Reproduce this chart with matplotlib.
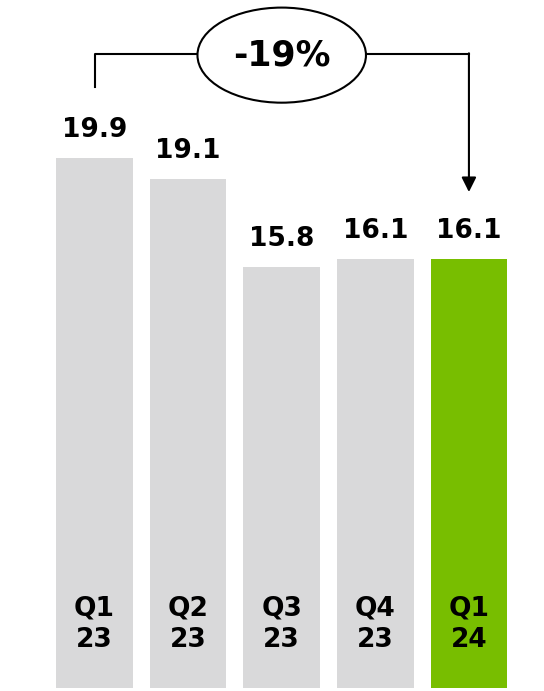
import matplotlib.pyplot as plt
from matplotlib.patches import Ellipse

quarters = ["Q1\n23", "Q2\n23", "Q3\n23", "Q4\n23", "Q1\n24"]
values = [19.9, 19.1, 15.8, 16.1, 16.1]
value_labels = ["19.9", "19.1", "15.8", "16.1", "16.1"]
change_label = "-19%"

GREY = "#d9d9da"
GREEN = "#78be00"
colors = [GREY] * 4 + [GREEN]

fig = plt.figure(figsize=(5.44, 6.91), dpi=100)
ax = fig.add_axes([0, 0, 1, 1])

x = list(range(len(values)))
ax.bar(x, values, width=0.82, color=colors)

# value labels above the bars
for xi, v, lab in zip(x, values, value_labels):
    ax.annotate(lab, (xi, v), xytext=(0, 15), textcoords="offset points",
                ha="center", va="baseline", fontsize=19, fontweight="bold")

# quarter labels inside the bars
for xi, q in zip(x, quarters):
    ax.text(xi, 2.4, q, ha="center", va="center", fontsize=19,
            fontweight="bold", linespacing=1.25)

# bracket with the change bubble
top = 23.8
ax.plot([x[0], x[0], 1.1], [22.56, top, top], color="black", lw=1.5)
ax.plot([2.9, x[-1]], [top, top], color="black", lw=1.5)
ax.annotate("", xy=(x[-1], 18.62), xytext=(x[-1], top + 0.03),
            arrowprops=dict(arrowstyle="-|>", color="black", lw=1.5,
                            mutation_scale=22, shrinkA=0, shrinkB=0))
ax.add_patch(Ellipse((2.0, 23.76), 1.8, 3.57, facecolor="white",
                     edgecolor="black", lw=1.5, zorder=3))
ax.text(2.0, 23.76, change_label, ha="center", va="center", fontsize=25,
        fontweight="bold", zorder=4)

ax.set_xlim(-1.0096, 4.802)
ax.set_ylim(-0.113, 25.83)
ax.axis("off")

fig.savefig("out.png", dpi=100)
